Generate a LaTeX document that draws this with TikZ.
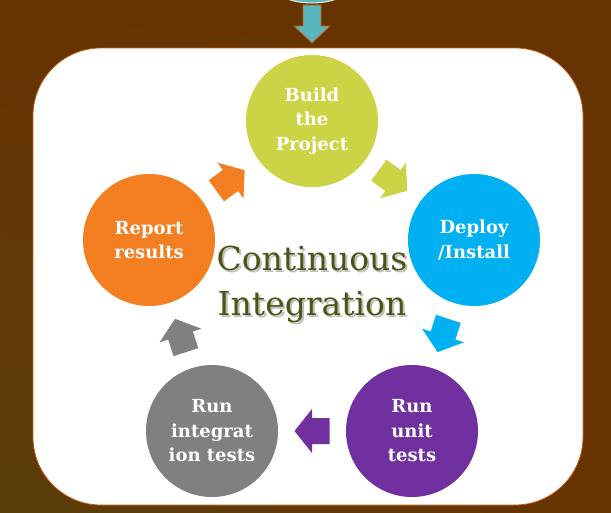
\documentclass[tikz,border=0pt]{standalone}
\usepackage{fontspec}
\setmainfont{DejaVu Serif}
\usetikzlibrary{calc,shadings}
\definecolor{bgbrown}{HTML}{663300}
\definecolor{bgolive}{HTML}{5A3F0A}
\definecolor{boxline}{HTML}{C55A11}
\definecolor{tealA}{HTML}{5AB6BD}
\definecolor{buildc}{HTML}{CCD344}
\definecolor{deployc}{HTML}{00B0F0}
\definecolor{unitc}{HTML}{7030A0}
\definecolor{integc}{HTML}{808080}
\definecolor{reportc}{HTML}{F47E22}
\definecolor{titlec}{HTML}{4F5416}
\tikzset{
  cyclearrow/.pic={\fill[#1] (-17.5,-13) -- (0,-13) -- (0,-22) -- (17.5,0) -- (0,22) -- (0,13) -- (-17.5,13) -- cycle;}
}
\begin{document}
\begin{tikzpicture}[x=1pt,y=-1pt,
  stage/.style={circle, minimum size=132pt, inner sep=0pt, text=white,
    font=\bfseries\fontsize{18}{24.5}\selectfont, align=center},
  titletext/.style={anchor=base, inner sep=0pt, text=titlec, font=\fontsize{33}{40}\selectfont},
  titleshadow/.style={anchor=base, inner sep=0pt, text=black!25, font=\fontsize{33}{40}\selectfont}]
\useasboundingbox (0,0) rectangle (611,512);
\shade[upper left=bgbrown, upper right=bgbrown, lower left=bgolive, lower right=bgbrown] (0,0) rectangle (611,512);
% top element
\filldraw[fill=tealA, draw=white!85!tealA, line width=1pt] (312,-75) circle (78);
\coordinate (ta1) at (303,5);
\filldraw[fill=tealA, draw=boxline, line width=0.8pt] (ta1) -- ++(18,0) -- ++(0,21) -- ++(9,0) -- ++(-18,17) -- ++(-18,-17) -- ++(9,0) -- cycle;
% white panel
\filldraw[fill=white, draw=boxline, line width=0.8pt, rounded corners=68pt] (33,48) rectangle (583,505);
% stages
\node[stage, fill=buildc] (build) at (312,121) {Build\\the\\Project};
\node[stage, fill=deployc] (deploy) at (474,240) {Deploy\\/Install};
\node[stage, fill=unitc] (unit) at (412,431) {Run\\unit\\tests};
\node[stage, fill=integc] (integ) at (212,431) {Run\\integrat\\ion tests};
\node[stage, fill=reportc] (report) at (149,240) {Report\\results};
% arrows
\pic[rotate=36] at ($(report)!0.5!(build)$) {cyclearrow=reportc};
\pic[rotate=-36] at ($(build)!0.5!(deploy)$) {cyclearrow=buildc};
\pic[rotate=-108] at ($(deploy)!0.5!(unit)$) {cyclearrow=deployc};
\pic[rotate=180] at ($(unit)!0.5!(integ)$) {cyclearrow=unitc};
\pic[rotate=108] at ($(integ)!0.5!(report)$) {cyclearrow=integc};
% title
\node[titleshadow] (t1s) at (314,272) {Continuous};
\node[titleshadow] (t2s) at (314,317) {Integration};
\node[titletext] (t1) at (312,270) {Continuous};
\node[titletext] (t2) at (312,315) {Integration};
\end{tikzpicture}
\end{document}
